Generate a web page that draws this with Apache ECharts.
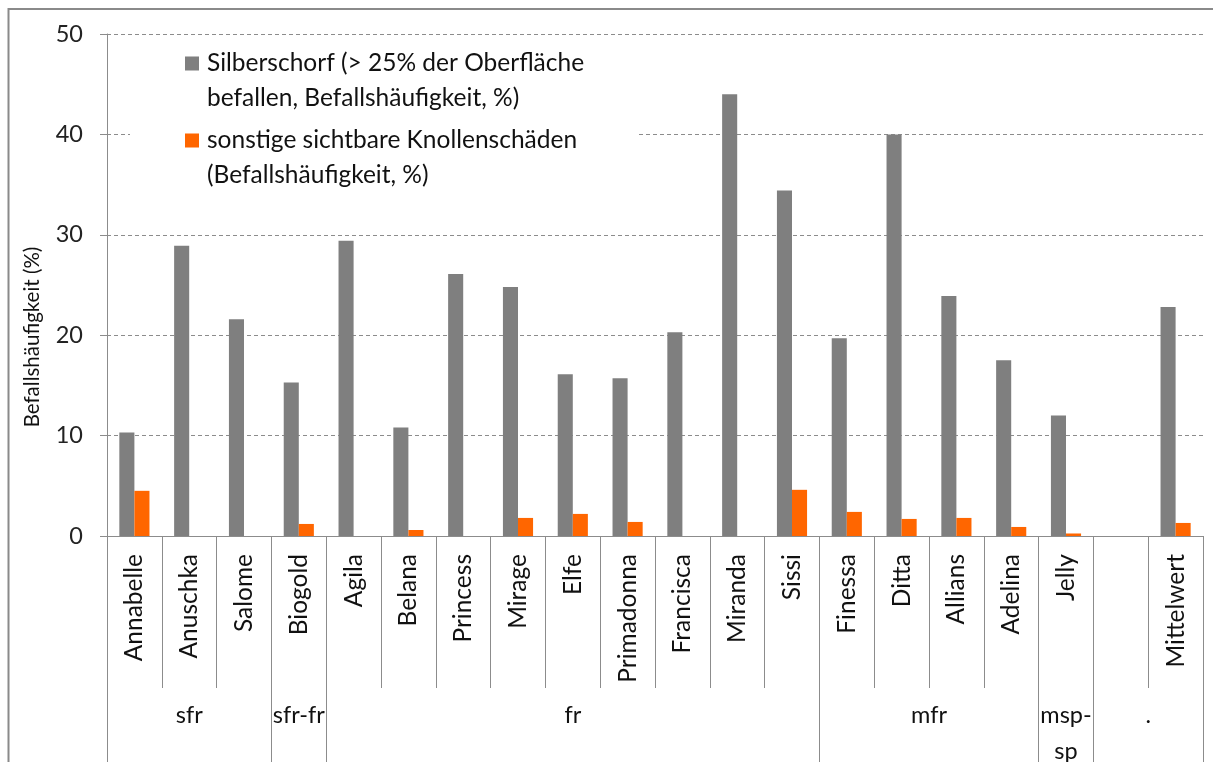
<!DOCTYPE html>
<html>
<head>
<meta charset="utf-8">
<script src="https://cdn.jsdelivr.net/npm/echarts@6/dist/echarts.min.js"></script>
<style>
html, body { margin: 0; padding: 0; background: #fff; }
#chart { width: 1213px; height: 762px; }
</style>
</head>
<body>
<div id="chart"></div>
<script>
// Sorten (the empty slot before "Mittelwert" is part of the original chart)
var sorten = ['Annabelle', 'Anuschka', 'Salome', 'Biogold', 'Agila', 'Belana', 'Princess',
    'Mirage', 'Elfe', 'Primadonna', 'Francisca', 'Miranda', 'Sissi', 'Finessa', 'Ditta',
    'Allians', 'Adelina', 'Jelly', '', 'Mittelwert'];
var silberschorf = [10.3, 28.9, 21.6, 15.3, 29.4, 10.8, 26.1, 24.8, 16.1, 15.7,
    20.3, 44.0, 34.4, 19.7, 40.0, 23.9, 17.5, 12.0, null, 22.8];
var knollenschaeden = [4.5, null, null, 1.2, null, 0.6, null, 1.8, 2.2, 1.4,
    null, null, 4.6, 2.4, 1.7, 1.8, 0.9, 0.25, null, 1.3];
// Reifegruppen: name, first category index, end index (exclusive)
var gruppen = ['sfr', 'sfr-fr', 'fr', 'mfr', 'msp-\nsp', '.'];
var gruppenStart = [0, 3, 4, 13, 17, 18];
var gruppenEnde = [3, 4, 13, 17, 18, 20];
var yTicks = [0, 10, 20, 30, 40, 50];

var serienNamen = ['Silberschorf (> 25% der Oberfläche\nbefallen, Befallshäufigkeit, %)',
    'sonstige sichtbare Knollenschäden\n(Befallshäufigkeit, %)'];

var FONT = 'Lato';
var axisGrey = '#8c8c8c';

var myChart = echarts.init(document.getElementById('chart'));

var option = {
    animation: false,
    backgroundColor: '#fff',
    textStyle: { fontFamily: FONT },
    graphic: [{
        type: 'rect',
        shape: { x: 8.5, y: 9, width: 1400, height: 900 },
        style: { fill: 'none', stroke: '#8a8a8a', lineWidth: 2 },
        silent: true
    }],
    grid: { left: 107, right: 10, top: 34, bottom: 226, outerBoundsMode: 'none', containLabel: false },
    legend: {
        orient: 'vertical',
        left: 130,
        top: 38,
        padding: [8, 52, 8, 55],
        itemGap: 7,
        itemWidth: 14,
        itemHeight: 49,
        // square at the top of a tall box, so the marker sits on the first text line
        icon: 'path://M0,0h14v14h-14z M0,48.9h0.1v0.1h-0.1z',
        backgroundColor: '#fff',
        textStyle: { fontSize: 24.5, lineHeight: 35, color: '#111', fontFamily: FONT, padding: [0, 0, 0, 3] },
        data: serienNamen
    },
    xAxis: [{
        type: 'category',
        data: sorten,
        position: 'bottom',
        axisLine: { show: true, lineStyle: { color: axisGrey } },
        axisTick: { show: true, interval: 0, length: 152, lineStyle: { color: axisGrey } },
        axisLabel: { interval: 0, rotate: 90, margin: 18, fontSize: 24.5, color: '#111', fontFamily: FONT },
        splitLine: { show: false }
    }, {
        // group boundaries, running down to the bottom edge
        type: 'category',
        data: sorten,
        position: 'bottom',
        axisLine: { show: false },
        axisLabel: { show: false },
        axisTick: {
            show: true,
            length: 240,
            interval: function (index) { return gruppenStart.indexOf(index) >= 0; },
            lineStyle: { color: axisGrey }
        },
        splitLine: { show: false }
    }, {
        // group names, centred on each group
        type: 'value',
        min: 0,
        max: 20,
        interval: 0.5,
        position: 'bottom',
        axisLine: { show: false },
        axisTick: { show: false },
        splitLine: { show: false },
        axisLabel: {
            margin: 161,
            fontSize: 23.5,
            lineHeight: 36,
            color: '#111',
            fontFamily: FONT,
            showMinLabel: true,
            showMaxLabel: true,
            formatter: function (v) {
                for (var i = 0; i < gruppen.length; i++) {
                    if ((gruppenStart[i] + gruppenEnde[i]) / 2 === v) return gruppen[i];
                }
                return '';
            }
        }
    }],
    yAxis: {
        type: 'value',
        min: yTicks[0],
        max: yTicks[yTicks.length - 1],
        interval: 10,
        name: 'Befallshäufigkeit (%)',
        nameLocation: 'middle',
        nameRotate: 90,
        nameGap: 64,
        nameTextStyle: { fontSize: 20.5, color: '#111', fontFamily: FONT, padding: [0, 104, 0, 0] },
        axisLine: { show: true, lineStyle: { color: axisGrey } },
        axisTick: { show: true, length: 7, lineStyle: { color: axisGrey } },
        axisLabel: { margin: 24, fontSize: 23.5, color: '#222', fontFamily: FONT },
        splitLine: { show: true, lineStyle: { color: axisGrey, type: [4, 3], width: 1 } }
    },
    series: [{
        name: serienNamen[0],
        type: 'bar',
        xAxisIndex: 0,
        data: silberschorf,
        barGap: '0%',
        barCategoryGap: '45%',
        itemStyle: { color: '#7f7f7f' }
    }, {
        name: serienNamen[1],
        type: 'bar',
        xAxisIndex: 0,
        data: knollenschaeden,
        barGap: '0%',
        barCategoryGap: '45%',
        itemStyle: { color: '#ff6600' }
    }]
};

myChart.setOption(option);
</script>
</body>
</html>
